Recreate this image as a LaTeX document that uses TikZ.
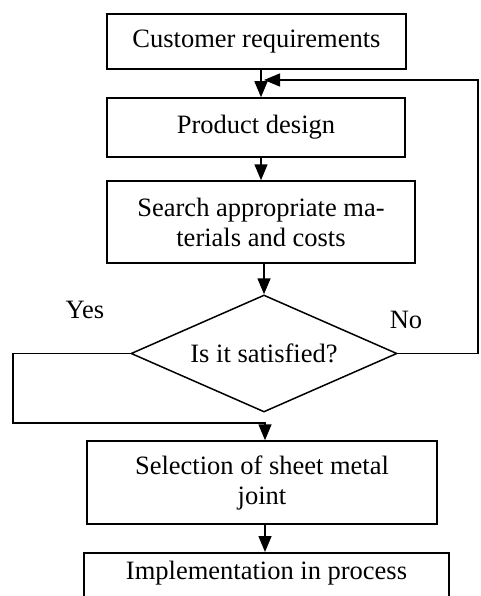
\documentclass[tikz,border=0pt]{standalone}
\usepackage{fontspec}
\setmainfont{Liberation Serif}
\usetikzlibrary{shapes.geometric,arrows.meta}
\begin{document}
\begin{tikzpicture}[x=1pt,y=-1pt,
  every node/.style={font=\fontsize{26.5}{30}\selectfont},
  procbox/.style={draw,line width=1.5pt,rectangle,inner sep=0pt,align=center},
  decbox/.style={draw,line width=1.5pt,diamond,inner sep=0pt,aspect=2.27},
  lbl/.style={inner sep=0pt},
  conn/.style={line width=1.5pt},
  arr/.style={conn,-{Triangle[width=13pt,length=16pt]}}]
\useasboundingbox (0,0) rectangle (480,596);
\clip (0,0) rectangle (480,596);
% nodes
\node[procbox,minimum width=299pt,minimum height=55pt] (box1) at (256.5,41.5) {Customer requirements};
\node[procbox,minimum width=298pt,minimum height=59pt] (box2) at (256,127.5) {Product design};
\node[procbox,minimum width=308pt,minimum height=82pt] (box3) at (261,222) {Search appropriate ma-\\terials and costs};
\node[decbox,minimum width=266pt,minimum height=117pt] (dec) at (264,353.5) {Is it satisfied?};
\node[procbox,minimum width=350pt,minimum height=83pt] (box4) at (262,482.5) {Selection of sheet metal\\joint};
\node[procbox,minimum width=365pt,text height=27pt,text depth=40pt,anchor=north] (box5) at (266.5,552) {Implementation in process};
\node[lbl] (yes) at (85,310) {Yes};
\node[lbl] (no) at (406,320) {No};
% helper coordinates
\coordinate (c1) at (261,0);
\coordinate (c3) at (265,0);
\coordinate (fbtip) at (264,80);
\coordinate (nocorner) at (478,353.5);
\coordinate (fbcorner) at (478,80);
\coordinate (yescorner) at (13,353.5);
\coordinate (yesbottom) at (13,423);
\coordinate (yesjoin) at (265,423);
% connectors
\draw[arr] (box1.south -| c1) -- (box2.north -| c1);
\draw[arr] (box2.south -| c1) -- (box3.north -| c1);
\draw[arr] (box3.south -| dec.north) -- (dec.north);
\draw[arr] (dec.east) -- (nocorner) -- (fbcorner) -- (fbtip);
\draw[arr] (dec.west) -- (yescorner) -- (yesbottom) -- (yesjoin) -- (box4.north -| c3);
\draw[arr] (box4.south -| c3) -- (box5.north -| c3);
\end{tikzpicture}
\end{document}
